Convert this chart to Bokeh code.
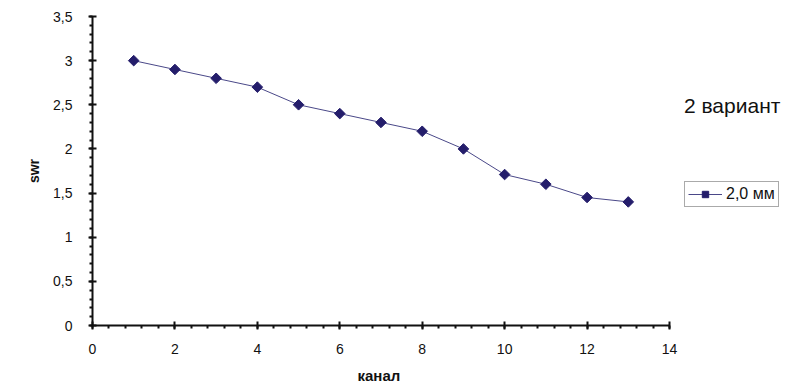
import math
from bokeh.plotting import figure
from bokeh.models import (Range1d, SingleIntervalTicker, CustomJSTickFormatter,
                          Legend, LegendItem, Label, Title)
from bokeh.embed import file_html
from bokeh.resources import INLINE

channels = [1, 2, 3, 4, 5, 6, 7, 8, 9, 10, 11, 12, 13]
swr_values = [3.0, 2.9, 2.8, 2.7, 2.5, 2.4, 2.3, 2.2, 2.0, 1.71, 1.6, 1.45, 1.4]
series_name = "2,0 мм"
chart_title = "2 вариант"
x_label = "канал"
y_label = "swr"

FONT = "Liberation Sans"

# axis spans 0..14 over 577 px; frame extends further right for title/legend
FRAME_W = 692
AXIS_W = 577
x_end = 14 * FRAME_W / AXIS_W

p = figure(frame_width=FRAME_W, frame_height=309, output_backend="svg",
           toolbar_location=None,
           x_range=Range1d(0, x_end), y_range=Range1d(0, 3.5),
           min_border_left=92, min_border_right=0, min_border_top=16,
           min_border_bottom=0)
p.outline_line_color = None
p.xgrid.visible = False
p.ygrid.visible = False
p.background_fill_color = "white"
p.border_fill_color = "white"

line = p.line(channels, swr_values, line_color="#4a4888", line_width=1)
pts = p.scatter(channels, swr_values, marker="square", size=7.5, angle=math.pi / 4,
                fill_color="#241d6b", line_color="#241d6b")

p.xaxis.ticker = SingleIntervalTicker(interval=2, num_minor_ticks=5)
p.yaxis.ticker = SingleIntervalTicker(interval=0.5, num_minor_ticks=5)
p.yaxis.formatter = CustomJSTickFormatter(code="return tick.toString().replace('.', ',');")
p.xaxis.formatter = CustomJSTickFormatter(code="return tick.toString().replace('.', ',');")
p.xaxis.bounds = (0, 14)
p.yaxis.bounds = (0, 3.5)

for ax in (p.xaxis[0], p.yaxis[0]):
    ax.axis_line_width = 2
    ax.axis_line_color = "#111111"
    ax.major_tick_line_width = 2
    ax.major_tick_line_color = "#111111"
    ax.minor_tick_line_width = 2
    ax.minor_tick_line_color = "#111111"
    ax.major_tick_in = 4
    ax.major_tick_out = 4
    ax.minor_tick_in = 0
    ax.minor_tick_out = 3
    ax.major_label_text_font = FONT
    ax.major_label_text_font_size = "14px"
    ax.major_label_text_color = "#111111"
    ax.axis_label_text_font = FONT
    ax.axis_label_text_font_size = "14px"
    ax.axis_label_text_font_style = "bold"
    ax.axis_label_text_color = "#111111"

p.yaxis.axis_label = y_label
p.xaxis.major_label_standoff = 14
p.yaxis.major_label_standoff = 16
p.yaxis.axis_label_standoff = 8

# x-axis label, positioned under the 0..14 span of the axis
x_title = Title(text=x_label, align="left", offset=265, standoff=16,
                text_font=FONT, text_font_size="15px", text_font_style="bold",
                text_color="#111111")
p.add_layout(x_title, "below")

title = Label(x=14.35, y=2.49, text=chart_title, text_font=FONT,
              text_font_size="21px", text_baseline="middle", text_align="left",
              text_color="#111111")
p.add_layout(title)

legend = Legend(items=[LegendItem(label=series_name, renderers=[line, pts])],
                location=(592, 118), orientation="vertical",
                border_line_color="#555555", border_line_width=1,
                background_fill_color="white", background_fill_alpha=1,
                padding=3, margin=0, spacing=0, label_standoff=4,
                glyph_width=34, glyph_height=16,
                label_text_font=FONT, label_text_font_size="16px",
                label_text_color="#111111", label_height=16)
p.add_layout(legend, "center")

open("out.html", "w").write(file_html(p, INLINE))
